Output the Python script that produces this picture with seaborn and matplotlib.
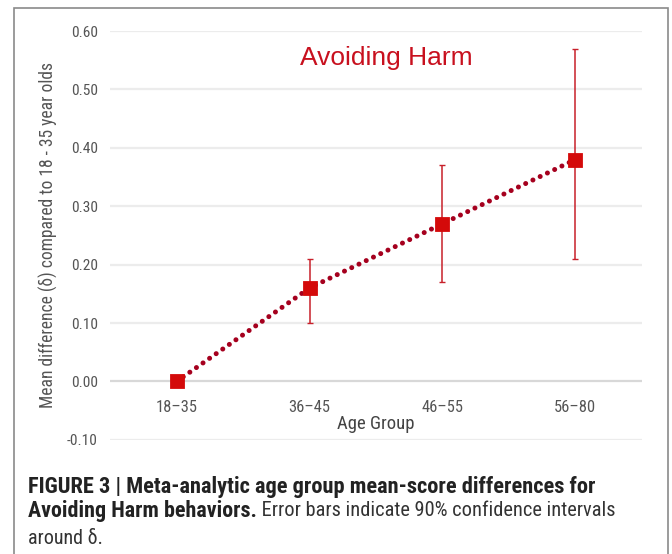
import matplotlib.pyplot as plt
import matplotlib.font_manager as fm
from matplotlib.patches import Rectangle
import seaborn as sns

sns.set_theme(style="white")

# data
age_groups = ["18\u201335", "36\u201345", "46\u201355", "56\u201380"]
delta = [0.00, 0.16, 0.27, 0.38]
ci_low = [float("nan"), 0.10, 0.17, 0.21]
ci_high = [float("nan"), 0.21, 0.37, 0.57]
y_ticks = [-0.10, 0.00, 0.10, 0.20, 0.30, 0.40, 0.50, 0.60]

names = {f.name for f in fm.fontManager.ttflist}
narrow = [n for n in ["Roboto Condensed", "Liberation Sans Narrow", "Open Sans Condensed",
                      "Roboto", "Liberation Sans"] if n in names]
NARROW = narrow[0] if narrow else "DejaVu Sans"
plt.rcParams["font.family"] = [NARROW, "DejaVu Sans"]

RED = "#d40a0a"
DARK_RED = "#a5001e"

fig = plt.figure(figsize=(6.72, 5.54), dpi=100)
ax = fig.add_axes([0.164, 0.206, 0.791, 0.738])
renderer = fig.canvas.get_renderer()


def fit(text, target, vertical=False):
    # scale the font so the text spans about `target` pixels
    for _ in range(3):
        bb = text.get_window_extent(renderer)
        size = bb.height if vertical else bb.width
        text.set_fontsize(text.get_fontsize() * target / size)
    return text.get_fontsize()


sns.pointplot(x=age_groups, y=delta, ax=ax, color=DARK_RED, markers="s",
              linestyles=":", errorbar=None)
line = ax.lines[0]
line.set_linewidth(3.6)
line.set_dashes((0.01, 1.6))
line.set_dash_capstyle("round")
line.set_markersize(8)
line.set_markerfacecolor(RED)
line.set_markeredgecolor(RED)
line.set_zorder(4)

yerr = [[d - lo for d, lo in zip(delta, ci_low)],
        [hi - d for d, hi in zip(delta, ci_high)]]
ax.errorbar(range(len(age_groups)), delta, yerr=yerr, fmt="none",
            ecolor="#c8202a", elinewidth=1.1, capsize=2.5, capthick=1, zorder=3)

ax.set_xlim(-0.5, 3.5)
ax.set_ylim(-0.1, 0.6)
ax.set_yticks(y_ticks)
ax.set_yticklabels([f"{t:.2f}" for t in y_ticks])
for t in y_ticks:
    ax.axhline(t, color="#d8d8d8" if t == 0 else "#ececec", lw=1.6, zorder=0)

for s in ax.spines.values():
    s.set_visible(False)
ax.spines["bottom"].set_position(("data", 0))
ax.tick_params(axis="both", length=0, labelcolor="#555555")
ax.tick_params(axis="x", pad=13)
ax.tick_params(axis="y", pad=9)

xl = ax.set_xlabel("Age Group", fontsize=14, color="#444444", labelpad=0)
yl = ax.set_ylabel("Mean difference (\u03b4) compared to 18 - 35 year olds",
                   fontsize=11.5, color="#555555", labelpad=6)

title = ax.text(0.519, 0.935, "Avoiding Harm", transform=ax.transAxes, ha="center",
                va="center", fontsize=18, color="#c8101e",
                family=["Liberation Sans", "DejaVu Sans"])

# outer border
fig.patches.append(Rectangle((14 / 672, -0.05), 654 / 672, 1 - 8 / 554 + 0.05,
                             transform=fig.transFigure, fill=False,
                             edgecolor="#8a8a8a", lw=1.2))

# caption
cap = dict(fontsize=13.5, color="#222222", va="center")
c1 = fig.text(28 / 672, 1 - 487 / 554,
              "FIGURE 3 | Meta-analytic age group mean-score differences for",
              weight="bold", **cap)
c2 = fig.text(28 / 672, 1 - 511 / 554, "Avoiding Harm behaviors.",
              weight="bold", **cap)
c3 = fig.text(28 / 672, 1 - 538 / 554, "around \u03b4.", fontsize=13.5,
              color="#333333", va="center")

fit(title, 173)
fit(xl, 78)
fit(yl, 348, vertical=True)
fit(c1, 566)
fit(c2, 229)
c2b = ax.annotate(" Error bars indicate 90% confidence intervals", xy=(1, 0.5),
                  xycoords=c2, va="center", fontsize=13.5, color="#333333",
                  annotation_clip=False)
fit(c2b, 358)
fit(c3, 75)

# tick label sizes measured on a probe text
probe = fig.text(0, 0, age_groups[0], fontsize=11)
x_size = fit(probe, 42)
probe.set_text("0.00")
y_size = fit(probe, 27)
probe.remove()
ax.tick_params(axis="x", labelsize=x_size)
ax.tick_params(axis="y", labelsize=y_size)

fig.savefig("out.png", dpi=100)
